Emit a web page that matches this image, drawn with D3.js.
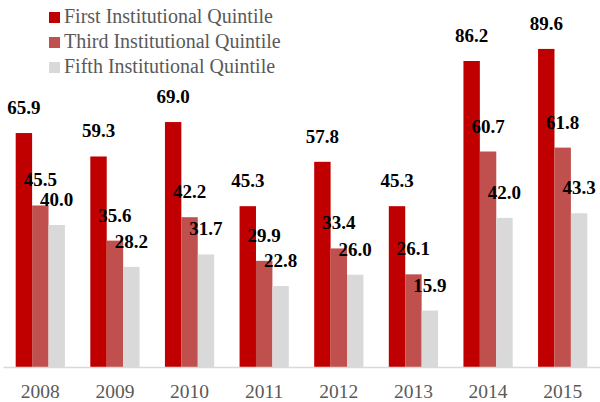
<!DOCTYPE html>
<html>
<head>
<meta charset="utf-8">
<script src="https://cdn.jsdelivr.net/npm/d3@7"></script>
<style>
  body { margin: 0; background: #fff; }
  svg { display: block; }
  svg text { font-family: 'Liberation Serif', 'Times New Roman', serif; }
</style>
</head>
<body>
<div id="chart"></div>
<script>
const years = ['2008', '2009', '2010', '2011', '2012', '2013', '2014', '2015']
const seriesNames = ['First Institutional Quintile', 'Third Institutional Quintile', 'Fifth Institutional Quintile']
const firstQuintile = [65.9, 59.3, 69.0, 45.3, 57.8, 45.3, 86.2, 89.6]
const thirdQuintile = [45.5, 35.6, 42.2, 29.9, 33.4, 26.1, 60.7, 61.8]
const fifthQuintile = [40.0, 28.2, 31.7, 22.8, 26.0, 15.9, 42.0, 43.3]
const colors = ['#C00000', '#C0504D', '#D9D9D9']

const width = 600
const height = 402
const baseY = 367
const serif = "'Liberation Serif', 'Times New Roman', serif"

const allSeries = [firstQuintile, thirdQuintile, fifthQuintile]

const svg = d3.select('#chart').append('svg')
  .attr('width', width)
  .attr('height', height)

const x = d3.scaleBand()
  .domain(years)
  .range([3, 600])
  .paddingInner(0.34)
  .paddingOuter(0.17)

const x1 = d3.scaleBand()
  .domain(d3.range(seriesNames.length))
  .range([0, x.bandwidth()])

const y = d3.scaleLinear()
  .domain([0, 100])
  .range([baseY, 12])

// bars
const groups = svg.selectAll('.year')
  .data(years)
  .enter()
  .append('g')
  .attr('class', 'year')
  .attr('transform', d => `translate(${x(d)},0)`)

groups.selectAll('rect')
  .data((d, i) => allSeries.map((s, k) => ({ k: k, v: s[i] })))
  .enter()
  .append('rect')
  .attr('x', d => x1(d.k))
  .attr('width', x1.bandwidth())
  .attr('y', d => y(d.v))
  .attr('height', d => baseY - y(d.v))
  .attr('fill', d => colors[d.k])

// value labels, drawn after all bars so they sit on top
const labels = svg.append('g')
years.forEach((yr, i) => {
  allSeries.forEach((s, k) => {
    labels.append('text')
      .attr('x', x(yr) + x1(k) + x1.bandwidth() / 2)
      .attr('y', y(s[i]) - 19)
      .attr('text-anchor', 'middle')
      .style('font-family', serif)
      .style('font-weight', 'bold')
      .style('font-size', '19px')
      .attr('fill', '#000')
      .text(s[i].toFixed(1))
  })
})

// x axis
const xAxis = svg.append('g')
  .attr('transform', `translate(0,${baseY})`)
  .call(d3.axisBottom(x).tickSize(0).tickPadding(17))
xAxis.select('.domain').attr('stroke', '#D9D9D9').attr('stroke-width', 1.5)
xAxis.selectAll('text')
  .style('font-family', serif)
  .style('font-size', '19.5px')
  .attr('fill', '#595959')

// legend
const legend = svg.append('g')
seriesNames.forEach((name, k) => {
  const row = legend.append('g').attr('transform', `translate(49,${12 + k * 25})`)
  row.append('rect')
    .attr('width', 11)
    .attr('height', 11)
    .attr('fill', colors[k])
  row.append('text')
    .attr('x', 15)
    .attr('y', 11)
    .style('font-family', serif)
    .style('font-size', '20px')
    .attr('fill', '#595959')
    .text(name)
})
</script>
</body>
</html>
